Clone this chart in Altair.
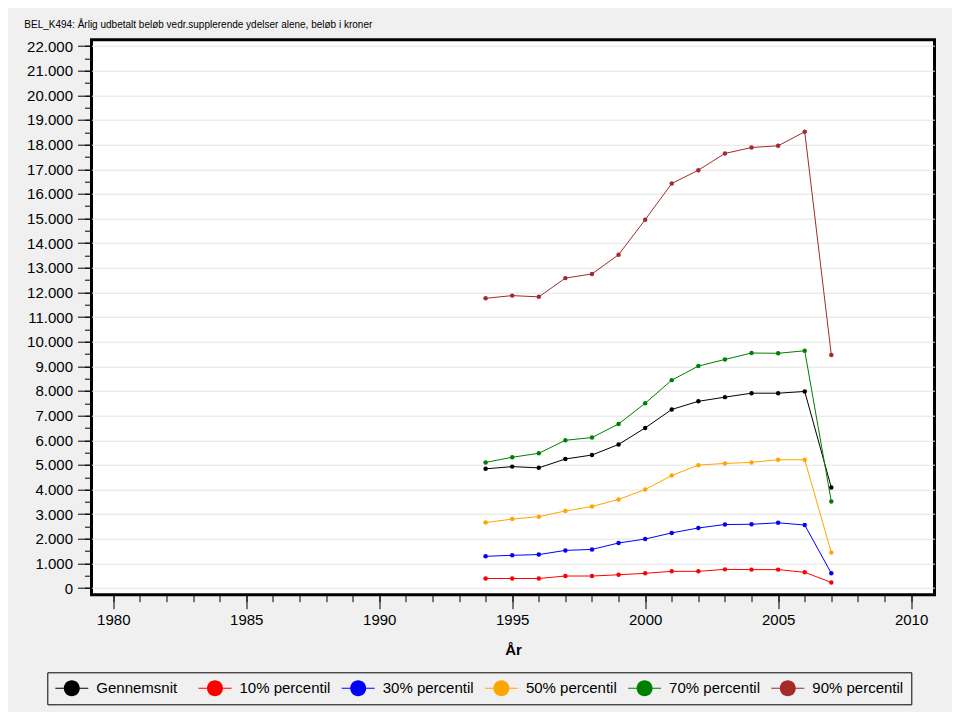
import altair as alt
import pandas as pd

years = list(range(1994, 2008))
series = ["Gennemsnit", "10% percentil", "30% percentil", "50% percentil", "70% percentil", "90% percentil"]
colors = ["#000000", "#ff0000", "#0000ff", "#ffa500", "#008000", "#a52a2a"]

gennemsnit = [4840, 4930, 4880, 5240, 5400, 5830, 6500, 7250, 7580, 7750, 7910, 7910, 7980, 4080]
p10 = [390, 390, 390, 490, 490, 540, 600, 680, 680, 760, 750, 750, 640, 230]
p30 = [1290, 1330, 1360, 1530, 1570, 1830, 1990, 2240, 2440, 2580, 2590, 2650, 2560, 600]
p50 = [2660, 2800, 2900, 3130, 3310, 3600, 4000, 4570, 4990, 5060, 5100, 5210, 5210, 1440]
p70 = [5100, 5310, 5470, 6000, 6110, 6660, 7500, 8440, 9010, 9280, 9540, 9530, 9630, 3510]
p90 = [11760, 11870, 11820, 12580, 12750, 13530, 14950, 16420, 16960, 17640, 17880, 17950, 18520, 9460]

x_major = list(range(1980, 2011, 5))
x_minor = list(range(1980, 2011))
y_major = list(range(0, 22001, 1000))
y_minor = list(range(0, 22001, 500))

title_text = "BEL_K494: Årlig udbetalt beløb vedr.supplerende ydelser alene, beløb i kroner"

values = [gennemsnit, p10, p30, p50, p70, p90]
rows = []
for name, vals in zip(series, values):
    for yr, v in zip(years, vals):
        rows.append({"År": yr, "serie": name, "beløb": v})
df = pd.DataFrame(rows)

FONT = "Liberation Sans"
xs = alt.Scale(domain=[1979.18, 2010.88], nice=False, zero=False)
ys = alt.Scale(domain=[-268, 22256], nice=False, zero=False)
cs = alt.Scale(domain=series, range=colors)

# legend glyph: short line with a filled circle in the middle (all filled shapes).
# symbol box is 16px (the circle); the line runs on to the right, label offset compensates.
sym_path = ("M-1,-0.0625L0.0625,-0.0625L0.0625,0.0625L-1,0.0625Z"
            "M2.0625,-0.0625L3.125,-0.0625L3.125,0.0625L2.0625,0.0625Z"
            "M0.0625,0A1,1,0,1,1,2.0625,0A1,1,0,1,1,0.0625,0Z")
leg = alt.Legend(
    title=None, orient="none", legendX=-44.2, legendY=632.6,
    direction="horizontal", columns=6, gridAlign="all",
    symbolType=sym_path, symbolSize=256, symbolStrokeWidth=0, symbolOpacity=1,
    labelFont=FONT, labelFontSize=15, labelColor="black", labelOffset=25,
    columnPadding=11.2, padding=8, fillColor="#f0f0f0", strokeColor="black",
)

base = alt.Chart(df)

lines = base.mark_line(strokeWidth=1).encode(
    x=alt.X("År:Q", scale=xs, axis=alt.Axis(
        values=x_major, tickSize=14, format="d", grid=False, title="År",
        titleFont=FONT, titleFontSize=15, titleFontWeight="bold", titleColor="black",
        titlePadding=15, labelPadding=4, domain=False, orient="bottom")),
    y=alt.Y("beløb:Q", scale=ys, axis=alt.Axis(
        values=y_major, tickSize=14, labelPadding=5, grid=True, gridColor="#e4e4e4",
        gridWidth=1, title=None, domain=False, orient="left",
        labelExpr="replace(format(datum.value, ','), ',', '.')")),
    color=alt.Color("serie:N", scale=cs, legend=leg),
    detail="serie:N",
)

points = base.mark_point(filled=True, size=20, opacity=1).encode(
    x=alt.X("År:Q", scale=xs, axis=alt.Axis(
        values=x_minor, tickSize=7, labels=False, grid=False, title=None,
        domain=False, orient="bottom")),
    y=alt.Y("beløb:Q", scale=ys, axis=alt.Axis(
        values=y_minor, tickSize=7, labels=False, grid=False, title=None,
        domain=False, orient="left")),
    color=alt.Color("serie:N", scale=cs, legend=leg),
)

chart = alt.layer(lines, points).resolve_axis(x="independent", y="independent").properties(
    width=843, height=555,
    title=alt.TitleParams(title_text, anchor="start", frame="group", dx=-67.2, offset=1,
                          baseline="alphabetic", font=FONT, fontSize=10,
                          fontWeight="normal", color="black"),
    autosize=alt.AutoSizeParams(type="none"),
    padding={"left": 83.5, "top": 31.7, "right": 17.5, "bottom": 117.3},
).configure(background="#f0f0f0").configure_view(
    stroke="black", strokeWidth=3, fill="white"
).configure_axis(
    labelFont=FONT, labelFontSize=15, labelColor="black", tickColor="black", tickWidth=1
)

chart.save("out.html", embed_options={"renderer": "svg", "actions": False})
